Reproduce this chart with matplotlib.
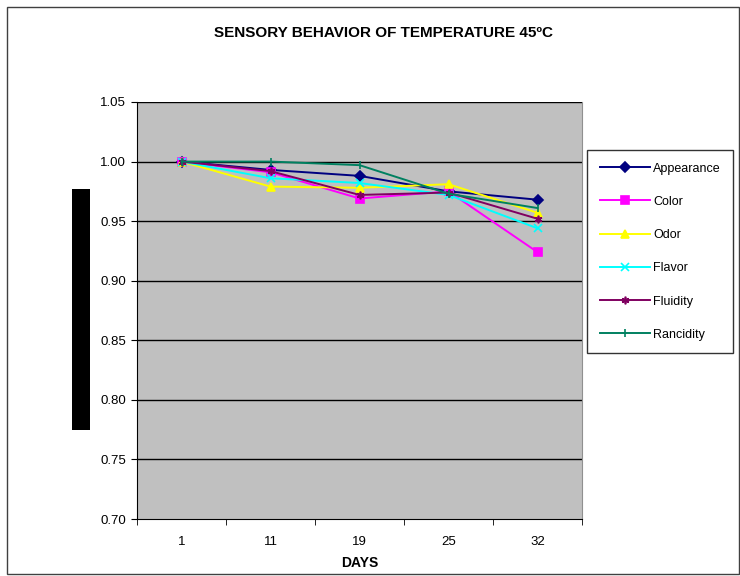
import matplotlib.pyplot as plt
from matplotlib.patches import Rectangle

plt.rcParams['font.family'] = ['Liberation Sans', 'DejaVu Sans']

days = ['1', '11', '19', '25', '32']
appearance = [1.000, 0.993, 0.988, 0.975, 0.968]
color = [1.000, 0.991, 0.969, 0.975, 0.924]
odor = [1.000, 0.979, 0.978, 0.981, 0.957]
flavor = [1.000, 0.986, 0.982, 0.972, 0.944]
fluidity = [1.000, 0.992, 0.972, 0.974, 0.952]
rancidity = [1.000, 1.000, 0.997, 0.973, 0.961]

series = [
    ('Appearance', appearance, '#000080', 'D'),
    ('Color', color, '#FF00FF', 's'),
    ('Odor', odor, '#FFFF00', '^'),
    ('Flavor', flavor, '#00FFFF', 'x'),
    ('Fluidity', fluidity, '#800060', (6, 2, 0)),
    ('Rancidity', rancidity, '#008060', '|'),
]

fig = plt.figure(figsize=(7.4, 5.76), dpi=100)
fig.patch.set_facecolor('white')
# outer chart frame
fig.patches.append(Rectangle((0.010, 0.003), 0.988, 0.985, transform=fig.transFigure,
                             fill=False, edgecolor='#404040', linewidth=1.0))
# black bar where the y label was
fig.patches.append(Rectangle((72 / 740, 1 - 430 / 576), 18 / 740, 241 / 576,
                             transform=fig.transFigure, facecolor='black', edgecolor='none'))

ax = fig.add_axes([137 / 740, 1 - 519 / 576, 445 / 740, 417 / 576])
ax.set_facecolor('#C0C0C0')

x = list(range(len(days)))
for name, vals, c, m in series:
    ax.plot(x, vals, '-', color=c, marker=m, markersize=5.5, linewidth=1.4,
            markeredgewidth=1.2, label=name)

ax.set_ylim(0.70, 1.05)
ax.set_xlim(-0.5, len(days) - 0.5)
yt = [0.70, 0.75, 0.80, 0.85, 0.90, 0.95, 1.00, 1.05]
ax.set_yticks(yt)
ax.set_yticklabels(['%.2f' % v for v in yt], fontsize=9.5)
for v in yt[1:]:
    ax.axhline(v, color='black', linewidth=1.0, zorder=0.5)

ax.set_xticks(x)
ax.set_xticklabels(days, fontsize=9.5)
ax.set_xticks([i - 0.5 for i in range(len(days) + 1)], minor=True)
ax.tick_params(axis='x', which='major', length=0, pad=12)
ax.tick_params(axis='x', which='minor', length=4, direction='out', color='black')
ax.tick_params(axis='y', length=4, direction='out', color='black', pad=4)

ax.spines['left'].set_color('black')
ax.spines['bottom'].set_color('black')
ax.spines['top'].set_visible(False)
ax.spines['right'].set_color('#909090')

ax.set_xlabel('DAYS', fontsize=10, fontweight='bold', labelpad=6)
fig.text(383 / 740, 1 - 33 / 576, 'SENSORY BEHAVIOR OF TEMPERATURE 45ºC',
         ha='center', va='center', fontsize=11, fontweight='bold')

leg = ax.legend(loc='upper left', bbox_to_anchor=(587 / 740, 1 - 150 / 576),
                bbox_transform=fig.transFigure, fontsize=9, frameon=True,
                fancybox=False, edgecolor='black', labelspacing=1.7,
                handlelength=4.0, handletextpad=0.3, borderpad=1.0,
                borderaxespad=0)
leg.get_frame().set_linewidth(1.0)

fig.savefig('out.png', dpi=100)
